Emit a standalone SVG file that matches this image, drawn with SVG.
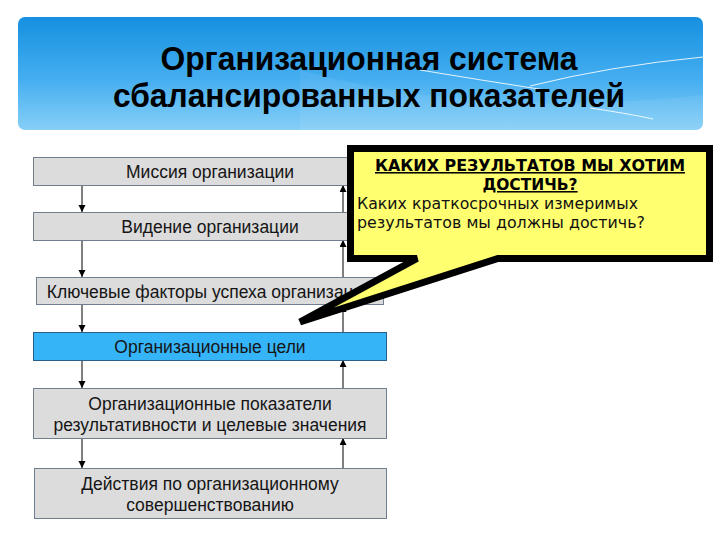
<svg xmlns="http://www.w3.org/2000/svg" width="720" height="540" viewBox="0 0 720 540">
<defs>
<linearGradient id="bannerGrad" x1="0" y1="0" x2="0" y2="1">
<stop offset="0" stop-color="#1590e0"/>
<stop offset="0.55" stop-color="#45aef0"/>
<stop offset="1" stop-color="#86cff7"/>
</linearGradient>
<marker id="arr" markerUnits="userSpaceOnUse" markerWidth="8" markerHeight="8" refX="7" refY="3.5" orient="auto">
<path d="M0,0 L7,3.5 L0,7 Z" fill="#000"/>
</marker>
<style>
.box{fill:#dcdcdc;stroke:#6f7f90;stroke-width:1}
.boxb{fill:#36b4f8;stroke:#2a5f8a;stroke-width:1}
.lbl{font-family:"Liberation Sans",Arial,sans-serif;font-size:17.5px;fill:#151515;text-anchor:middle}
.conn line{stroke:#000;stroke-width:1;marker-end:url(#arr)}
.title{font-family:"Liberation Sans",Arial,sans-serif;font-weight:bold;font-size:33px;fill:#000;text-anchor:middle}
.ch{font-family:"DejaVu Sans","Liberation Sans",sans-serif;font-weight:bold;font-size:15.5px;fill:#000;text-anchor:middle;text-decoration:underline}
.cb{font-family:"DejaVu Sans","Liberation Sans",sans-serif;font-size:15.5px;fill:#111}
.deco{fill:none;stroke:#fff;stroke-width:1;opacity:0.85}
</style>
</defs>
<rect width="720" height="540" fill="#fff"/>

<g id="banner">
<rect x="18" y="17" width="685" height="113" rx="7" fill="url(#bannerGrad)"/>
<path d="M300 70 Q480 120 703 95 L703 130 L300 130 Z" fill="#fff" opacity="0.07"/>
<path class="deco" d="M420 70 Q480 80 545 90"/>
<path class="deco" d="M530 86 Q610 66 703 57"/>
<path class="deco" d="M590 108 Q625 113 653 119"/>
<text class="title" x="369" y="70" textLength="417" lengthAdjust="spacingAndGlyphs">Организационная система</text>
<text class="title" x="369" y="107" textLength="512" lengthAdjust="spacingAndGlyphs">сбалансированных показателей</text>
</g>

<g id="connectors" class="conn">
<line x1="82" y1="185" x2="82" y2="212"/>
<line x1="82" y1="240" x2="82" y2="277"/>
<line x1="82" y1="305" x2="82" y2="332"/>
<line x1="82" y1="360" x2="82" y2="388"/>
<line x1="82" y1="438" x2="82" y2="468"/>
<line x1="343" y1="212" x2="343" y2="185"/>
<line x1="343" y1="277" x2="343" y2="240"/>
<line x1="343" y1="332" x2="343" y2="305"/>
<line x1="343" y1="388" x2="343" y2="360"/>
<line x1="343" y1="468" x2="343" y2="438"/>
</g>

<g id="mission">
<rect class="box" x="33.5" y="157.5" width="353" height="28"/>
<text class="lbl" x="210" y="178">Миссия организации</text>
</g>
<g id="vision">
<rect class="box" x="33.5" y="212.5" width="353" height="28"/>
<text class="lbl" x="210" y="233">Видение организации</text>
</g>
<g id="ksf">
<rect class="box" x="36.5" y="277.5" width="347" height="27"/>
<text class="lbl" x="210" y="298">Ключевые факторы успеха организации</text>
</g>
<g id="goals">
<rect class="boxb" x="33.5" y="332.5" width="353" height="28"/>
<text class="lbl" x="210" y="353">Организационные цели</text>
</g>
<g id="kpi">
<rect class="box" x="33.5" y="388.5" width="353" height="50"/>
<text class="lbl" x="210" y="410">Организационные показатели</text>
<text class="lbl" x="210" y="431">результативности и целевые значения</text>
</g>
<g id="actions">
<rect class="box" x="34.5" y="468.5" width="352" height="50"/>
<text class="lbl" x="210" y="490">Действия по организационному</text>
<text class="lbl" x="210" y="511">совершенствованию</text>
</g>

<g id="callout">
<path d="M350.5 148.5 H709.5 V258.5 H498 L300 322 L417 258.5 H350.5 Z" fill="#ffff70" stroke="#000" stroke-width="7" stroke-linejoin="miter" stroke-miterlimit="3"/>
<text class="ch" x="530" y="171" textLength="310" lengthAdjust="spacingAndGlyphs">КАКИХ РЕЗУЛЬТАТОВ МЫ ХОТИМ</text>
<text class="ch" x="530" y="190">ДОСТИЧЬ?</text>
<text class="cb" x="357" y="209" textLength="281" lengthAdjust="spacingAndGlyphs">Каких краткосрочных измеримых</text>
<text class="cb" x="357" y="228" textLength="288" lengthAdjust="spacingAndGlyphs">результатов мы должны достичь?</text>
</g>
</svg>
